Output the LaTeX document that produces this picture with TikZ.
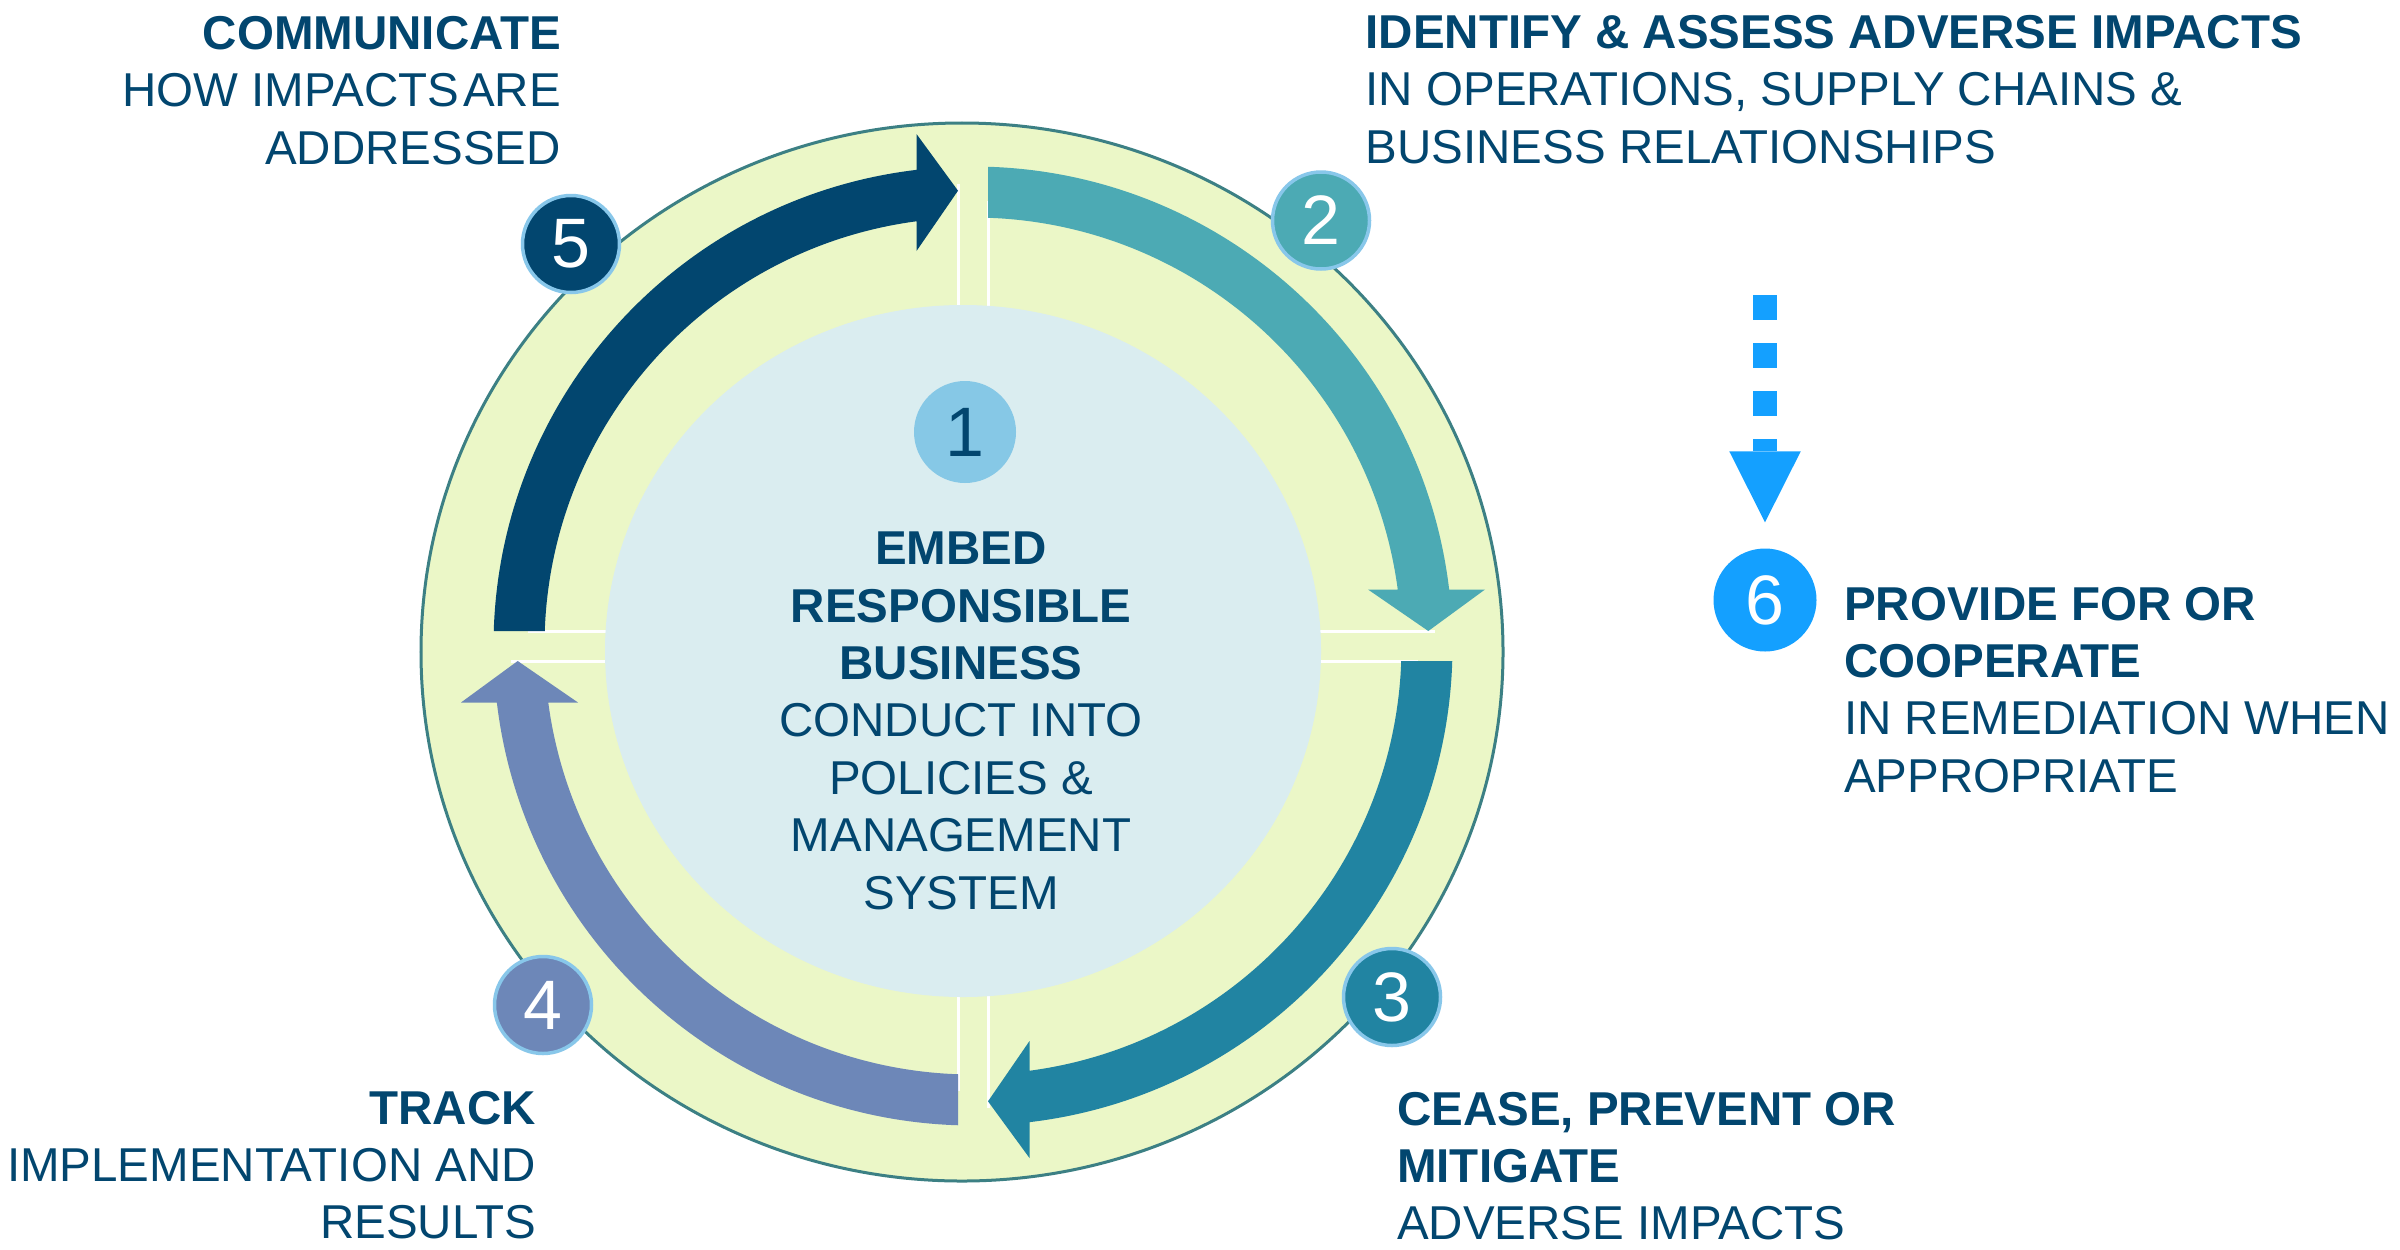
\documentclass[tikz,border=0pt]{standalone}
\usepackage{fontspec}
\setmainfont{Liberation Sans}
\definecolor{ringbg}{HTML}{EBF7C7}
\definecolor{ringedge}{HTML}{3C8084}
\definecolor{core}{HTML}{DAEDF0}
\definecolor{navy}{HTML}{02466F}
\definecolor{teal}{HTML}{4CAAB4}
\definecolor{deepteal}{HTML}{2184A2}
\definecolor{slate}{HTML}{6D87B8}
\definecolor{sky}{HTML}{86C8E6}
\definecolor{bright}{HTML}{14A0FF}
\definecolor{halo}{HTML}{88C7EA}

% one quarter arrow of the cycle, drawn for the top-right quarter and rotated
\newcommand{\cyclearrow}[2]{%
  \begin{scope}[shift={(973,-646)}, rotate=#1]
    \fill[#2] (88.207:479.5bp) arc[start angle=88.207, end angle=6.767, radius=479.5bp]
      -- (512,56.5) -- (455.3,15) -- (395,56.5)
      -- (7.577:428.5bp) arc[start angle=7.577, end angle=87.994, radius=428.5bp] -- cycle;
  \end{scope}}

\begin{document}
\begin{tikzpicture}[x=1bp, y=1bp,
  numdot/.style={circle, minimum size=97bp, inner sep=0pt, draw=halo, line width=3.5bp,
    text=white, font=\fontsize{70bp}{70bp}\selectfont},
  steptext/.style={inner sep=0pt, text=navy, font=\fontsize{47.5bp}{57.4bp}\selectfont},
  quadline/.style={white, line width=3bp},
  dots6/.style={bright, line width=24bp, dash pattern=on 24.5bp off 23.5bp}]

\useasboundingbox (0,0) rectangle (2400,-1249);
\fill[white] (0,0) rectangle (2400,-1249);

% outer ring
\filldraw[fill=ringbg, draw=ringedge, line width=3bp] (962,-652) ellipse [x radius=541bp, y radius=529bp];

% white dividers between the quarters
\foreach \r in {0,90,180,-90}{
  \begin{scope}[shift={(973,-646)}, rotate=\r]
    \draw[quadline] (15,300) -- (15,445);
    \draw[quadline] (300,15) -- (462,15);
  \end{scope}}

% central disc
\fill[core] (963,-651) ellipse [x radius=358bp, y radius=346bp];

% the four cycle arrows
\cyclearrow{0}{teal}
\cyclearrow{-90}{deepteal}
\cyclearrow{180}{slate}
\cyclearrow{90}{navy}

% numbered markers
\node[circle, minimum size=102bp, inner sep=0pt, fill=sky, text=navy,
      font=\fontsize{70bp}{70bp}\selectfont] (n1) at (965,-432) {1};
\node[numdot, fill=teal] (n2) at (1321,-220.5) {2};
\node[numdot, fill=deepteal] (n3) at (1392,-997) {3};
\node[numdot, fill=slate] (n4) at (543,-1005) {4};
\node[numdot, fill=navy] (n5) at (571,-244) {5};
\node[circle, minimum size=103bp, inner sep=0pt, fill=bright, text=white,
      font=\fontsize{70bp}{70bp}\selectfont] (n6) at (1765,-600) {6};

% dotted arrow towards step 6
\coordinate (d0) at (1765,-295);
\coordinate (tip6) at ([yshift=26bp]n6.north);
\draw[dots6] (d0) -- ([yshift=71bp]tip6);
\fill[bright] ([xshift=-35.75bp, yshift=71bp]tip6) -- ([xshift=35.75bp, yshift=71bp]tip6) -- (tip6) -- cycle;

% step texts
\node[steptext, anchor=north, align=center] (t1) at (961,-531.8)
  {\textbf{EMBED}\\\textbf{RESPONSIBLE}\\\textbf{BUSINESS}\\CONDUCT INTO\\POLICIES \&\\MANAGEMENT\\SYSTEM};
\node[steptext, anchor=north west, align=left] (t2) at (1365.5,-15)
  {\textbf{IDENTIFY \& ASSESS ADVERSE IMPACTS}\\IN OPERATIONS, SUPPLY CHAINS \&\\BUSINESS RELATIONSHIPS};
\node[steptext, anchor=north west, align=left] (t3) at (1397,-1091.7)
  {\textbf{CEASE, PREVENT OR}\\\textbf{MITIGATE}\\ADVERSE IMPACTS};
\node[steptext, anchor=north east, align=right] (t4) at (536,-1090.7)
  {\textbf{TRACK}\\IMPLEMENTATION AND\\RESULTS};
\node[steptext, anchor=north east, align=right] (t5) at (561,-16)
  {\textbf{COMMUNICATE}\\HOW IMPACTS\hspace{0.08em}ARE\\ADDRESSED};
\node[steptext, anchor=north west, align=left] (t6) at (1844,-586.8)
  {\textbf{PROVIDE FOR OR}\\\textbf{COOPERATE}\\IN REMEDIATION WHEN\\APPROPRIATE};
\end{tikzpicture}
\end{document}
